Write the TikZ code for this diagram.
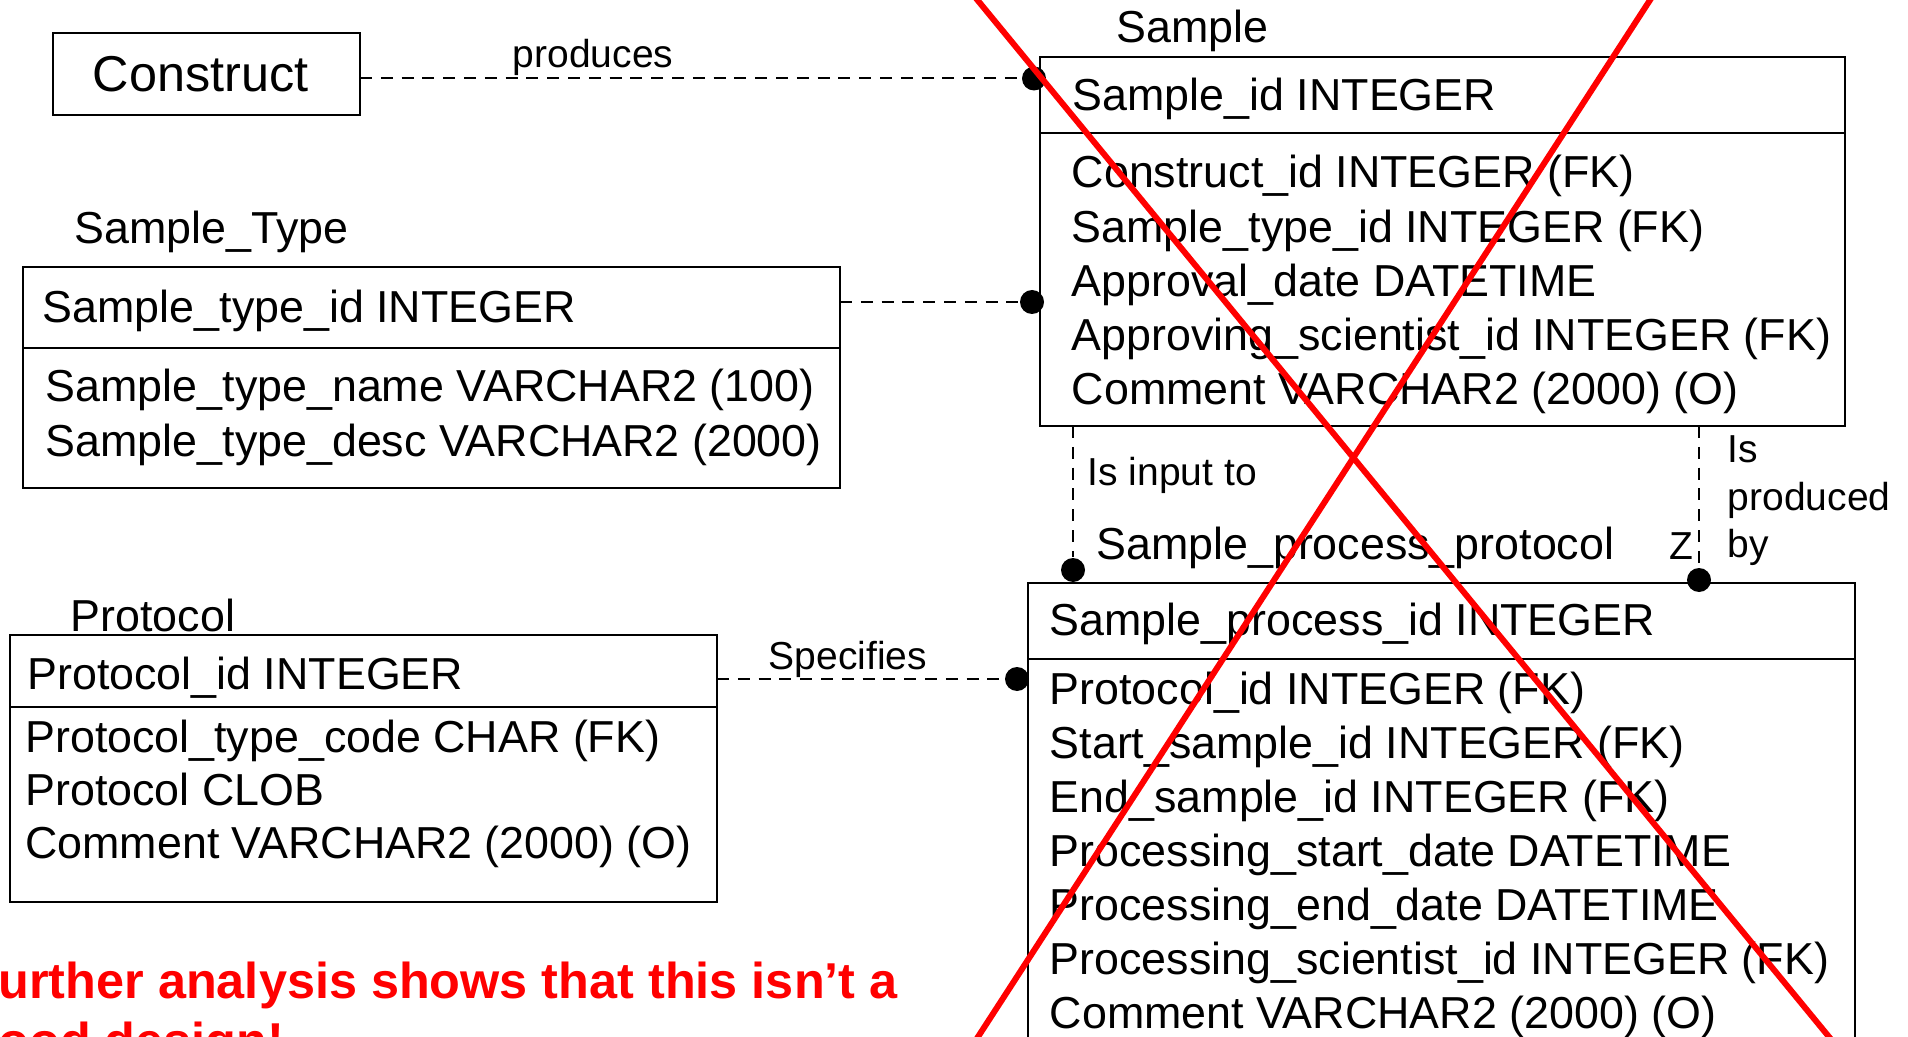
\documentclass[tikz,border=0pt]{standalone}
\usepackage{fontspec}
\setmainfont{Liberation Sans}
\usetikzlibrary{positioning}

\newcommand{\fsz}[1]{\fontsize{#1}{#1}\selectfont}

\begin{document}
\begin{tikzpicture}[x=0.25pt, y=-0.25pt,
	every node/.style={inner sep=0pt, font=\fsz{11.2pt}},
	tbl/.style={draw, line width=0.6pt, outer sep=0pt, anchor=north west},
	fld/.style={anchor=base west},
	rel/.style={line width=0.5pt, dash pattern=on 3pt off 2.2pt},
	lbl/.style={anchor=base west, font=\fsz{9.75pt}},
	enddot/.style={circle, fill, minimum size=6pt},
	cross/.style={red, line width=1.5pt},
	warn/.style={anchor=base west, text=red, font=\fsz{12.6pt}\bfseries}]

	\useasboundingbox (0,0) rectangle (1908,1037);
	\clip (0,0) rectangle (1908,1037);

	\node [tbl, minimum width=76.75pt, minimum height=20.5pt] (con) at (53,33) {};
	\node [font=\fsz{12.6pt}] (conl) at (200.5,74) {Construct};

	\node [fld] (smpt) at (1116,43) {Sample};
	\node [tbl, minimum width=201.25pt, minimum height=19pt] (smpk) at (1040,57) {};
	\node [tbl, minimum width=201.25pt, minimum height=73.25pt] (smpb) at (smpk.south west) {};
	\node [fld] (smp0) at (1072,111) {Sample\_id INTEGER};
	\foreach \f [count=\i from 0] in {Construct\_id INTEGER (FK), Sample\_type\_id INTEGER (FK), Approval\_date DATETIME, Approving\_scientist\_id INTEGER (FK), Comment VARCHAR2 (2000) (O)}
		\node [fld] (smp\i) at (1071,{188+54.2*\i}) {\f};

	\node [fld] (typt) at (74,244) {Sample\_Type};
	\node [tbl, minimum width=204.25pt, minimum height=20.25pt] (typk) at (23,267) {};
	\node [tbl, minimum width=204.25pt, minimum height=35pt] (typb) at (typk.south west) {};
	\node [fld] (typ0) at (42,323) {Sample\_type\_id INTEGER};
	\foreach \f [count=\i from 0] in {Sample\_type\_name VARCHAR2 (100), Sample\_type\_desc VARCHAR2 (2000)}
		\node [fld] (typ\i) at (45,{401+55*\i}) {\f};

	\node [fld] (prot) at (70,631) {Protocol};
	\node [tbl, minimum width=176.75pt, minimum height=18pt] (prok) at (10,635) {};
	\node [tbl, minimum width=176.75pt, minimum height=48.75pt] (prob) at (prok.south west) {};
	\node [fld] (pro0) at (26.7,689) {Protocol\_id INTEGER};
	\foreach \f [count=\i from 0] in {Protocol\_type\_code CHAR (FK), Protocol CLOB, Comment VARCHAR2 (2000) (O)}
		\node [fld] (pro\i) at (24.5,{752+53.3*\i}) {\f};

	\node [fld] (sppt) at (1095.5,559.5) {Sample\_process\_protocol};
	\node [tbl, minimum width=206.75pt, minimum height=19pt] (sppk) at (1028,583) {};
	\node [tbl, minimum width=206.75pt, minimum height=112.5pt] (sppb) at (sppk.south west) {};
	\node [fld] (spp0) at (1049,635) {Sample\_process\_id INTEGER};
	\foreach \f [count=\i from 0] in {Protocol\_id INTEGER (FK), Start\_sample\_id INTEGER (FK), End\_sample\_id INTEGER (FK), Processing\_start\_date DATETIME, Processing\_end\_date DATETIME, Processing\_scientist\_id INTEGER (FK), Comment VARCHAR2 (2000) (O)}
		\node [fld] (spp\i) at (1049,{704+54*\i}) {\f};

	\node [enddot] (pd) at (1034,78.5) {};
	\node [enddot] (td) at (1032,302) {};
	\node [enddot] (ind) at (1073,570) {};
	\node [enddot] (pbd) at (1699,580) {};
	\node [enddot] (sd) at (1017,679) {};

	\draw [rel] (con.east |- pd) -- (pd);
	\draw [rel] (typk.east |- td) -- (td);
	\draw [rel] (ind |- smpb.south) -- (ind);
	\draw [rel] (pbd |- smpb.south) -- (pbd);
	\draw [rel] (prok.east |- sd) -- (sd);

	\node [lbl] (prodl) at (512,67.5) {produces};
	\node [lbl] (specl) at (768,669) {Specifies};
	\node [lbl] (inl) at (1087,485) {Is input to};
	\node [lbl] (pbl1) at (1727,463) {Is};
	\node [lbl] (pbl2) at (1727,511) {produced};
	\node [lbl] (pbl3) at (1727,557) {by};
	\node [lbl] (zl) at (1669,559) {Z};

	\node [warn] (w1) at (-33,998) {Further analysis shows that this isn’t a};
	\node [warn] (w2) at ([yshift=-15pt]w1.base west) {good design!};

	\draw [cross] (961,-20) -- (1848,1060);
	\draw [cross] (1663,-20) -- (963,1060);

\end{tikzpicture}
\end{document}
